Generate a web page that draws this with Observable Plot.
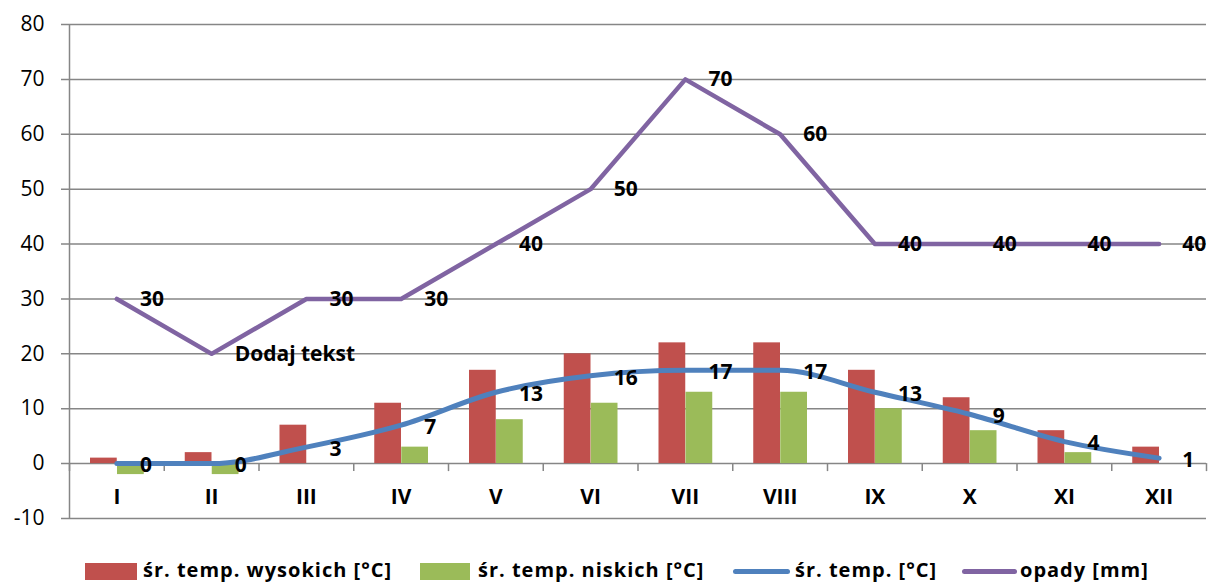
<!DOCTYPE html>
<html><head><meta charset="utf-8">
<script src="https://cdn.jsdelivr.net/npm/d3@7"></script>
<script src="https://cdn.jsdelivr.net/npm/@observablehq/plot@0.6"></script>
<style>
body{margin:0;background:#fff;font-family:"Open Sans",sans-serif;}
#wrap{position:relative;width:1211px;height:584px;}
#chart{position:absolute;left:0;top:0;}
#chart text[font-weight="bold"]{letter-spacing:0.5px;}
.leg{position:absolute;top:557px;height:26px;line-height:26px;font-weight:bold;font-size:20px;letter-spacing:1px;color:#000;white-space:nowrap;}
</style></head><body><div id="wrap"><div id="chart"></div></div>
<script>
const months = ["I","II","III","IV","V","VI","VII","VIII","IX","X","XI","XII"];
const tempHigh = [1, 2, 7, 11, 17, 20, 22, 22, 17, 12, 6, 3];
const tempLow = [-2, -2, 0, 3, 8, 11, 13, 13, 10, 6, 2, 0];
const tempAvg = [0, 0, 3, 7, 13, 16, 17, 17, 13, 9, 4, 1];
const precip = [30, 20, 30, 30, 40, 50, 70, 60, 40, 40, 40, 40];
const precipLabels = ["30", "Dodaj tekst", "30", "30", "40", "50", "70", "60", "40", "40", "40", "40"];
const yTicks = [-10, 0, 10, 20, 30, 40, 50, 60, 70, 80];
const seriesNames = ["śr. temp. wysokich [°C]", "śr. temp. niskich [°C]", "śr. temp. [°C]", "opady [mm]"];
const seriesColors = ["#C0504D", "#9BBB59", "#4F81BD", "#8064A2"];

const data = months.map((m, i) => ({i, month: m, high: tempHigh[i], low: tempLow[i], avg: tempAvg[i], precip: precip[i], plabel: precipLabels[i]}));
const cx = d => d.i + 0.5;
const grid = "#868686";

const chart = Plot.plot({
  width: 1211,
  height: 545,
  marginTop: 24,
  marginBottom: 27,
  marginLeft: 69,
  marginRight: 5,
  style: {fontFamily: "'Open Sans', sans-serif", background: "white", color: "black", overflow: "visible"},
  x: {domain: [0, months.length], axis: null},
  y: {domain: [-10, 80], axis: null},
  marks: [
    Plot.ruleY(yTicks, {stroke: grid, strokeWidth: 1.5, insetLeft: -8}),
    Plot.ruleX([0], {stroke: grid, strokeWidth: 1.5}),
    Plot.ruleX(d3.range(months.length + 1), {y1: () => 0, y2: () => 0, insetBottom: -8, stroke: grid, strokeWidth: 1.5}),
    Plot.rect(data, {x1: d => d.i, x2: d => d.i + 1, y1: () => 0, y2: "high", fill: seriesColors[0], insetLeft: 21, insetRight: 47}),
    Plot.rect(data, {x1: d => d.i, x2: d => d.i + 1, y1: () => 0, y2: "low", fill: seriesColors[1], insetLeft: 48, insetRight: 20}),
    Plot.line(data, {x: cx, y: "precip", stroke: seriesColors[3], strokeWidth: 4.5}),
    Plot.line(data, {x: cx, y: "avg", stroke: seriesColors[2], strokeWidth: 5, curve: "monotone-x"}),
    Plot.text(data, {x: cx, y: "precip", text: "plabel", textAnchor: "start", dx: 23, fontWeight: "bold", fontSize: 21, fill: "black"}),
    Plot.text(data, {x: cx, y: "avg", text: d => String(d.avg), textAnchor: "start", dx: 23, dy: 2, fontWeight: "bold", fontSize: 21, fill: "black"}),
    Plot.text(data, {x: cx, y: () => 0, text: "month", dy: 34, fontWeight: "bold", fontSize: 21, fill: "black"}),
    Plot.text(yTicks, {x: () => 0, y: d => d, text: d => String(d), textAnchor: "end", dx: -25, fontSize: 21, fill: "black"})
  ]
});
document.getElementById("chart").appendChild(chart);

// legend
const wrap = document.getElementById("wrap");
const legPos = [
  {sx: 85, sw: 52, sh: 17, line: false, tx: 143},
  {sx: 420, sw: 50, sh: 17, line: false, tx: 478},
  {sx: 733, sw: 57, sh: 5, line: true, tx: 795},
  {sx: 962, sw: 55, sh: 5, line: true, tx: 1020}
];
seriesNames.forEach((name, k) => {
  const p = legPos[k];
  const sw = document.createElement("div");
  sw.style.cssText = `position:absolute;left:${p.sx}px;top:${571 - p.sh / 2}px;width:${p.sw}px;height:${p.sh}px;background:${seriesColors[k]};border-radius:${p.line ? 3 : 0}px;`;
  wrap.appendChild(sw);
  const t = document.createElement("div");
  t.className = "leg";
  t.style.left = p.tx + "px";
  t.textContent = name;
  wrap.appendChild(t);
});
</script>
</body></html>
